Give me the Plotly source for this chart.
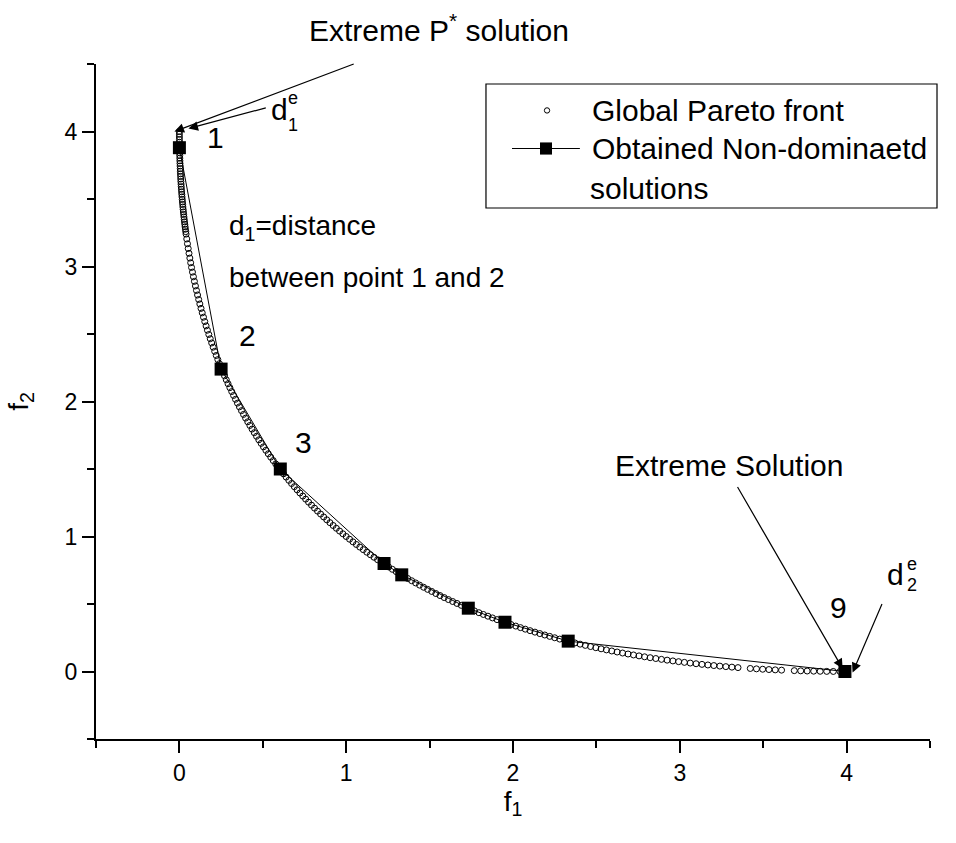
import plotly.graph_objects as go

# Global Pareto front
pareto_f1 = [0.0000, 0.0001, 0.0004, 0.0009, 0.0016, 0.0025, 0.0036, 0.0049, 0.0064, 0.0081,
             0.0100, 0.0121, 0.0144, 0.0169, 0.0196, 0.0225, 0.0256, 0.0289, 0.0324, 0.0361,
             0.0400, 0.0441, 0.0484, 0.0529, 0.0576, 0.0625, 0.0729, 0.0784, 0.0900, 0.1024,
             0.1089, 0.1225, 0.1296, 0.1444, 0.1600, 0.1681, 0.1849, 0.2025, 0.2209, 0.2304,
             0.2500, 0.2704, 0.2809, 0.3025, 0.3249, 0.3364, 0.3600, 0.3844, 0.4096, 0.4356,
             0.4489, 0.4761, 0.5041, 0.5329, 0.5625, 0.5776, 0.6084, 0.6400, 0.6724, 0.7056,
             0.7396, 0.7744, 0.8100, 0.8464, 0.8836, 0.9216, 0.9604, 1.0000, 1.0404, 1.0816,
             1.1236, 1.1664, 1.2100, 1.2544, 1.2996, 1.3456, 1.3924, 1.4400, 1.4884, 1.5376,
             1.5876, 1.6384, 1.6900, 1.7424, 1.7956, 1.8496, 1.9044, 1.9600, 2.0164, 2.0736,
             2.1316, 2.1904, 2.2500, 2.3104, 2.3716, 2.4336, 2.4964, 2.5600, 2.6244, 2.6896,
             2.7556, 2.8224, 2.8900, 2.9584, 3.0276, 3.0976, 3.1684, 3.2400, 3.3124, 3.4596,
             3.5344, 3.5721, 3.6100, 3.6864, 3.7636, 3.8416, 3.9204,
             0.0676, 0.0841, 0.0961, 0.1156, 0.1369, 0.1521, 0.1764, 0.1936, 0.2116, 0.2401,
             0.2601, 0.2916, 0.3136, 0.3481, 0.3721, 0.3969, 0.4225, 0.4624, 0.4900, 0.5184,
             0.5476, 0.5929, 0.6241, 0.6561, 0.6889, 0.7225, 0.7569, 0.7921, 0.8281, 0.8649,
             0.9025, 0.9409, 0.9801, 1.0201, 1.0609, 1.1025, 1.1449, 1.1881, 1.2321, 1.2769,
             1.3225, 1.3689, 1.4161, 1.4641, 1.5129, 1.5625, 1.6129, 1.6641, 1.7161, 1.7689,
             1.8225, 1.8769, 1.9321, 1.9881, 2.0449, 2.1025, 2.1609, 2.2201, 2.2801, 2.3409,
             2.4025, 2.4649, 2.5281, 2.5921, 2.6569, 2.7225, 2.7889, 2.8561, 2.9241, 2.9929,
             3.0625, 3.1329, 3.2041, 3.2761, 3.3489, 3.4225, 3.4969, 3.7249, 3.8025, 3.8809,
             3.9601,
             0.0000, 0.0002, 0.0006, 0.0012, 0.0020, 0.0030, 0.0042, 0.0056, 0.0072, 0.0090,
             0.0110, 0.0132, 0.0156, 0.0182, 0.0210, 0.0240, 0.0272, 0.0306, 0.0342, 0.0380]
pareto_f2 = [4.0000, 3.9601, 3.9204, 3.8809, 3.8416, 3.8025, 3.7636, 3.7249, 3.6864, 3.6481,
             3.6100, 3.5721, 3.5344, 3.4969, 3.4596, 3.4225, 3.3856, 3.3489, 3.3124, 3.2761,
             3.2400, 3.2041, 3.1684, 3.1329, 3.0976, 3.0625, 2.9929, 2.9584, 2.8900, 2.8224,
             2.7889, 2.7225, 2.6896, 2.6244, 2.5600, 2.5281, 2.4649, 2.4025, 2.3409, 2.3104,
             2.2500, 2.1904, 2.1609, 2.1025, 2.0449, 2.0164, 1.9600, 1.9044, 1.8496, 1.7956,
             1.7689, 1.7161, 1.6641, 1.6129, 1.5625, 1.5376, 1.4884, 1.4400, 1.3924, 1.3456,
             1.2996, 1.2544, 1.2100, 1.1664, 1.1236, 1.0816, 1.0404, 1.0000, 0.9604, 0.9216,
             0.8836, 0.8464, 0.8100, 0.7744, 0.7396, 0.7056, 0.6724, 0.6400, 0.6084, 0.5776,
             0.5476, 0.5184, 0.4900, 0.4624, 0.4356, 0.4096, 0.3844, 0.3600, 0.3364, 0.3136,
             0.2916, 0.2704, 0.2500, 0.2304, 0.2116, 0.1936, 0.1764, 0.1600, 0.1444, 0.1296,
             0.1156, 0.1024, 0.0900, 0.0784, 0.0676, 0.0576, 0.0484, 0.0400, 0.0324, 0.0196,
             0.0144, 0.0121, 0.0100, 0.0064, 0.0036, 0.0016, 0.0004,
             3.0276, 2.9241, 2.8561, 2.7556, 2.6569, 2.5921, 2.4964, 2.4336, 2.3716, 2.2801,
             2.2201, 2.1316, 2.0736, 1.9881, 1.9321, 1.8769, 1.8225, 1.7424, 1.6900, 1.6384,
             1.5876, 1.5129, 1.4641, 1.4161, 1.3689, 1.3225, 1.2769, 1.2321, 1.1881, 1.1449,
             1.1025, 1.0609, 1.0201, 0.9801, 0.9409, 0.9025, 0.8649, 0.8281, 0.7921, 0.7569,
             0.7225, 0.6889, 0.6561, 0.6241, 0.5929, 0.5625, 0.5329, 0.5041, 0.4761, 0.4489,
             0.4225, 0.3969, 0.3721, 0.3481, 0.3249, 0.3025, 0.2809, 0.2601, 0.2401, 0.2209,
             0.2025, 0.1849, 0.1681, 0.1521, 0.1369, 0.1225, 0.1089, 0.0961, 0.0841, 0.0729,
             0.0625, 0.0529, 0.0441, 0.0361, 0.0289, 0.0225, 0.0169, 0.0049, 0.0025, 0.0009,
             0.0001,
             3.9800, 3.9402, 3.9006, 3.8612, 3.8220, 3.7830, 3.7442, 3.7056, 3.6672, 3.6290,
             3.5910, 3.5532, 3.5156, 3.4782, 3.4410, 3.4040, 3.3672, 3.3306, 3.2942, 3.2580]

# Obtained non-dominated solutions
obt_f1 = [0.0, 0.25, 0.605, 1.227, 1.333, 1.732, 1.952, 2.331, 3.99]
obt_f2 = [3.88, 2.24, 1.50, 0.80, 0.716, 0.469, 0.365, 0.225, 0.0]

FONT = "Liberation Sans, Arial, sans-serif"

fig = go.Figure()
fig.add_trace(go.Scatter(x=pareto_f1, y=pareto_f2, mode="markers",
                         marker=dict(symbol="circle-open", size=6, color="black",
                                     line=dict(width=1, color="black")),
                         showlegend=False))
fig.add_trace(go.Scatter(x=obt_f1, y=obt_f2, mode="lines+markers",
                         line=dict(color="black", width=1),
                         marker=dict(symbol="square", size=13, color="black"),
                         showlegend=False))

ann = []
def txt(x, y, t, size=30, xanchor="center"):
    ann.append(dict(x=x, y=y, xref="x", yref="y", text=t, showarrow=False,
                    font=dict(size=size, color="black", family=FONT),
                    xanchor=xanchor, yanchor="middle"))

def arrow(x, y, ax, ay):
    ann.append(dict(x=x, y=y, ax=ax, ay=ay, xref="x", yref="y", axref="x", ayref="y",
                    text="", showarrow=True, arrowhead=2, arrowsize=1.6,
                    arrowwidth=1.2, arrowcolor="black"))

ann.append(dict(x=0.411, y=1.053, xref="paper", yref="paper",
                text="Extreme P<sup>*</sup> solution", showarrow=False,
                font=dict(size=30, color="black", family=FONT),
                xanchor="center", yanchor="middle"))
arrow(-0.03, 4.0, 1.054, 4.504)
arrow(0.054, 4.022, 0.527, 4.178)
txt(0.599, 4.165, "d", 30)
txt(0.683, 4.245, "e", 18)
txt(0.683, 4.045, "1", 18)
txt(0.216, 3.956, "1", 30)
txt(0.287, 3.289, "d<sub>1</sub>=distance", 28, "left")
txt(0.287, 2.919, "between point 1 and 2", 28, "left")
txt(0.407, 2.489, "2", 30)
txt(0.743, 1.696, "3", 30)
txt(3.296, 1.526, "Extreme Solution", 30)
arrow(3.976, 0.022, 3.341, 1.378)
txt(3.952, 0.474, "9", 30)
txt(4.293, 0.72, "d", 30)
txt(4.395, 0.80, "e", 18)
txt(4.395, 0.64, "2", 18)
arrow(4.036, -0.007, 4.216, 0.511)

# legend (drawn manually)
txt(2.461, 4.156, "Global Pareto front", 30, "left")
txt(2.461, 3.874, "Obtained Non-dominaetd", 30, "left")
txt(2.449, 3.578, "solutions", 30, "left")

shapes = [
    dict(type="rect", xref="paper", yref="paper", x0=0.4676, x1=1.0084, y0=0.7867, y1=0.9704,
         line=dict(color="black", width=1.2), fillcolor="rgba(0,0,0,0)"),
    dict(type="circle", xref="x", yref="y", x0=2.204 - 0.016, x1=2.204 + 0.016,
         y0=4.156 - 0.02, y1=4.156 + 0.02, line=dict(color="black", width=1)),
    dict(type="line", xref="x", yref="y", x0=1.994, x1=2.401, y0=3.874, y1=3.874,
         line=dict(color="black", width=1)),
    dict(type="rect", xref="x", yref="y", x0=2.198 - 0.036, x1=2.198 + 0.036,
         y0=3.874 - 0.045, y1=3.874 + 0.045, line=dict(color="black", width=0),
         fillcolor="black"),
]

fig.update_layout(
    width=956, height=843,
    margin=dict(l=96, r=26, t=64, b=104),
    paper_bgcolor="white", plot_bgcolor="white",
    font=dict(family=FONT, color="black", size=23),
    annotations=ann, shapes=shapes, showlegend=False,
)
axcommon = dict(showgrid=False, zeroline=False, showline=True, linecolor="black",
                linewidth=2, ticks="outside", ticklen=12, tickwidth=2, tickcolor="black",
                dtick=1, tick0=0,
                minor=dict(dtick=0.5, tick0=0, ticks="outside", ticklen=7,
                           tickwidth=2, tickcolor="black"),
                tickfont=dict(size=23, family=FONT, color="black"))
fig.update_xaxes(range=[-0.5, 4.5], title=dict(text="f<sub>1</sub>", font=dict(size=28),
                 standoff=6), **axcommon)
fig.update_yaxes(range=[-0.5, 4.5], title=dict(text="f<sub>2</sub>", font=dict(size=28),
                 standoff=28), **axcommon)

fig.write_html("out.html")
